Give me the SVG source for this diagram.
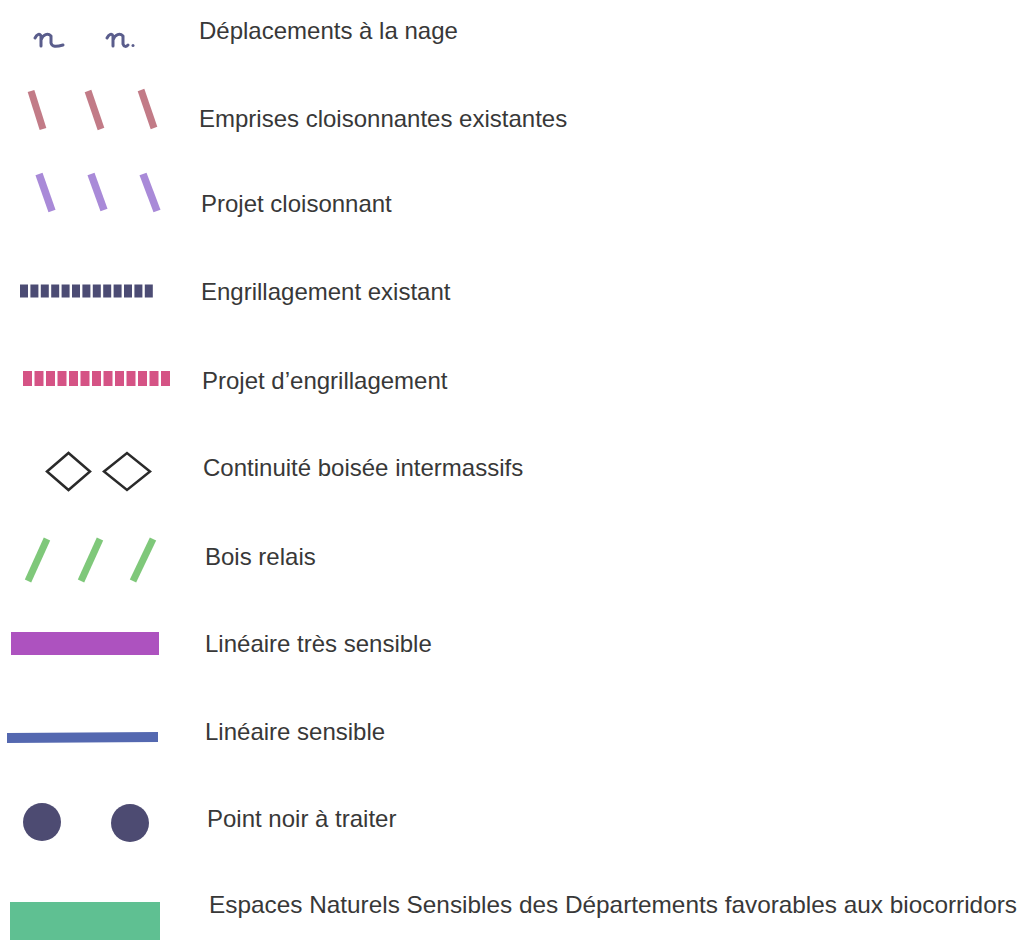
<svg xmlns="http://www.w3.org/2000/svg" width="1025" height="944" viewBox="0 0 1025 944">
<style>
  .lbl { font-family: "Liberation Sans", Arial, sans-serif; font-size: 24px; fill: #383838; }
  .swim { fill: none; stroke: #5a5d8c; stroke-width: 3; stroke-linecap: round; stroke-linejoin: round; }
  .slash-red { stroke: #c27b87; stroke-width: 7; stroke-linecap: butt; }
  .slash-purple { stroke: #a98ad8; stroke-width: 7.5; stroke-linecap: butt; }
  .slash-green { stroke: #7fc87a; stroke-width: 7; stroke-linecap: butt; }
  .diamond { fill: #ffffff; stroke: #2a2a2a; stroke-width: 2.5; }
  .dot { fill: #4d4b72; }
</style>
<rect x="0" y="0" width="1025" height="944" fill="#ffffff"/>

<g id="nage">
  <path class="swim" d="M35,38 C37,34 40,33 41,36 L41,46 M41,40 C43,34 48,33 51,36 L51,43 C52,47 56,47 63,45"/>
  <path class="swim" d="M107,38 C109,34 112,33 113,36 L113,46 M113,40 C115,34 120,33 123,36 L123,44 C124,47 126,47 128,45"/>
  <circle cx="133" cy="45.5" r="1.5" fill="#5a5d8c"/>
  <text class="lbl" x="199" y="39">Déplacements à la nage</text>
</g>

<g id="emprises">
  <line class="slash-red" x1="31" y1="91" x2="43" y2="129"/>
  <line class="slash-red" x1="88" y1="91" x2="101" y2="129"/>
  <line class="slash-red" x1="141" y1="90" x2="154" y2="128"/>
  <text class="lbl" x="199" y="127">Emprises cloisonnantes existantes</text>
</g>

<g id="projet-cloisonnant">
  <line class="slash-purple" x1="39" y1="174" x2="52" y2="211"/>
  <line class="slash-purple" x1="91" y1="174" x2="104" y2="210"/>
  <line class="slash-purple" x1="143" y1="174" x2="157" y2="211"/>
  <text class="lbl" x="201" y="212">Projet cloisonnant</text>
</g>

<g id="engrillagement-existant">
  <line x1="20" y1="291" x2="155" y2="291" stroke="#4c4c74" stroke-width="13" stroke-dasharray="8 2.4"/>
  <text class="lbl" x="201" y="300">Engrillagement existant</text>
</g>

<g id="projet-engrillagement">
  <line x1="23" y1="378.5" x2="172" y2="378.5" stroke="#d55385" stroke-width="15" stroke-dasharray="9 2.5"/>
  <text class="lbl" x="202" y="389">Projet d’engrillagement</text>
</g>

<g id="continuite">
  <polygon class="diamond" points="47,471.5 68.5,453 90,471.5 68.5,490"/>
  <polygon class="diamond" points="104,471.5 127,453 150,471.5 127,490"/>
  <text class="lbl" x="203" y="476">Continuité boisée intermassifs</text>
</g>

<g id="bois-relais">
  <line class="slash-green" x1="47" y1="539" x2="28" y2="581"/>
  <line class="slash-green" x1="100" y1="539" x2="81" y2="581"/>
  <line class="slash-green" x1="153" y1="539" x2="133" y2="581"/>
  <text class="lbl" x="205" y="565">Bois relais</text>
</g>

<g id="lineaire-tres-sensible">
  <rect x="11" y="632" width="148" height="23" fill="#ad52bf"/>
  <text class="lbl" x="205" y="652">Linéaire très sensible</text>
</g>

<g id="lineaire-sensible">
  <polygon points="7,733 158,732 158,742 7,743" fill="#5468b0"/>
  <text class="lbl" x="205" y="740">Linéaire sensible</text>
</g>

<g id="point-noir">
  <circle class="dot" cx="42" cy="822" r="19"/>
  <circle class="dot" cx="130" cy="823" r="19"/>
  <text class="lbl" x="207" y="827">Point noir à traiter</text>
</g>

<g id="ens">
  <rect x="10" y="902" width="150" height="38" fill="#5fc092"/>
  <text class="lbl" x="209" y="913" textLength="808" lengthAdjust="spacingAndGlyphs">Espaces Naturels Sensibles des Départements favorables aux biocorridors</text>
</g>
</svg>
